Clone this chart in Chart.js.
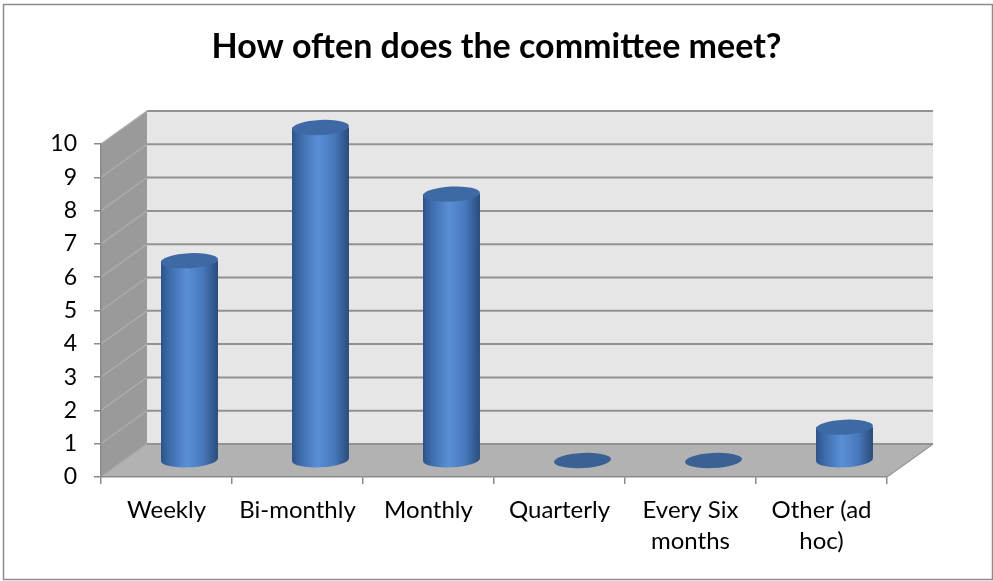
<!DOCTYPE html>
<html>
<head>
<meta charset="utf-8">
<script src="https://cdn.jsdelivr.net/npm/chart.js@4"></script>
<style>
  html, body { margin: 0; padding: 0; background: #fff; }
  #wrap { width: 993px; height: 581px; }
</style>
</head>
<body>
<div id="wrap"><canvas id="myChart"></canvas></div>
<script>
const categories = ['Weekly', 'Bi-monthly', 'Monthly', 'Quarterly', ['Every Six', 'months'], ['Other (ad', 'hoc)']];
const counts = [6, 10, 8, 0, 0, 1];
const yTicks = [0, 1, 2, 3, 4, 5, 6, 7, 8, 9, 10];

// depth of the 3d box (back wall is shifted up and to the right)
const DX = 46, DY = -33;

const box3d = {
  id: 'box3d',
  beforeDraw(chart) {
    const ctx = chart.ctx;
    const y = chart.scales.y;
    const l = chart.chartArea.left, r = chart.chartArea.right;
    const y0 = y.getPixelForValue(0), yMax = y.getPixelForValue(yTicks[yTicks.length - 1]);
    ctx.save();

    // outer frame
    ctx.strokeStyle = '#8c8c8c';
    ctx.lineWidth = 1.5;
    ctx.strokeRect(3.5, 4.5, 989, 575);

    // back wall
    ctx.fillStyle = '#e6e6e6';
    ctx.fillRect(l + DX, yMax + DY, r - l, y0 - yMax);

    // left side wall
    ctx.fillStyle = '#9a9a9a';
    ctx.beginPath();
    ctx.moveTo(l, yMax);
    ctx.lineTo(l + DX, yMax + DY);
    ctx.lineTo(l + DX, y0 + DY);
    ctx.lineTo(l, y0);
    ctx.closePath();
    ctx.fill();

    // floor
    ctx.fillStyle = '#b2b2b2';
    ctx.beginPath();
    ctx.moveTo(l, y0);
    ctx.lineTo(l + DX, y0 + DY);
    ctx.lineTo(r + DX, y0 + DY);
    ctx.lineTo(r, y0);
    ctx.closePath();
    ctx.fill();

    // gridlines on back and side walls
    yTicks.forEach(v => {
      const py = y.getPixelForValue(v);
      ctx.strokeStyle = '#929292';
      ctx.lineWidth = 2;
      ctx.beginPath();
      ctx.moveTo(l + DX, py + DY);
      ctx.lineTo(r + DX, py + DY);
      ctx.stroke();
      ctx.strokeStyle = '#ababab';
      ctx.lineWidth = 1.5;
      ctx.beginPath();
      ctx.moveTo(l, py);
      ctx.lineTo(l + DX, py + DY);
      ctx.stroke();
    });

    // right edge of the floor
    ctx.strokeStyle = '#999999';
    ctx.lineWidth = 1.5;
    ctx.beginPath();
    ctx.moveTo(r + DX, y0 + DY);
    ctx.lineTo(r, y0);
    ctx.stroke();
    ctx.restore();
  },
  afterDatasetsDraw(chart) {
    const ctx = chart.ctx;
    const meta = chart.getDatasetMeta(0);
    const ry = 7.5, rot = -0.05;
    ctx.save();
    meta.data.forEach(bar => {
      const cx = bar.x + DX / 2;
      const rx = bar.width / 2;
      const top = bar.y + DY / 2;
      const bot = bar.base + DY / 2;
      if (bot - top > 0.5) {
        const g = ctx.createLinearGradient(cx - rx, 0, cx + rx, 0);
        g.addColorStop(0, '#2d5389');
        g.addColorStop(0.15, '#3d6cab');
        g.addColorStop(0.45, '#5a8fd6');
        g.addColorStop(0.75, '#4677b9');
        g.addColorStop(1, '#2a4b7b');
        ctx.fillStyle = g;
        ctx.beginPath();
        ctx.moveTo(cx - rx, top);
        ctx.lineTo(cx - rx, bot);
        ctx.ellipse(cx, bot, rx, ry, rot, Math.PI, 0, true);
        ctx.lineTo(cx + rx, top);
        ctx.closePath();
        ctx.fill();
        ctx.fillStyle = '#3d69a5';
      } else {
        ctx.fillStyle = '#3a6194';
      }
      ctx.beginPath();
      ctx.ellipse(cx, top, rx, ry, rot, 0, Math.PI * 2);
      ctx.fill();
    });
    ctx.restore();
  }
};

const ctx = document.getElementById('myChart');
const myChart = new Chart(ctx, {
  type: 'bar',
  data: {
    labels: categories,
    datasets: [{
      data: counts,
      backgroundColor: 'rgba(0,0,0,0)',
      categoryPercentage: 1,
      barPercentage: 0.435
    }]
  },
  options: {
    responsive: true,
    maintainAspectRatio: false,
    animation: false,
    layout: { padding: 0 },
    plugins: {
      legend: { display: false },
      tooltip: { enabled: false },
      title: {
        display: true,
        text: 'How often does the committee meet?',
        color: '#000',
        font: { family: 'Lato', size: 34, weight: 'bold', lineHeight: 1.2 },
        padding: { top: 27, bottom: 76.2 }
      }
    },
    scales: {
      x: {
        afterFit: s => { s.height = 104; },
        border: { display: true, color: '#8a8a8a', width: 1.5 },
        grid: { offset: true, drawOnChartArea: false, drawTicks: true, tickLength: 7, color: '#8a8a8a', lineWidth: 1.5 },
        ticks: {
          color: '#000', autoSkip: false, maxRotation: 0, padding: 11,
          font: { family: 'Lato', size: 24, lineHeight: 1.29 }
        }
      },
      y: {
        min: 0, max: 10,
        afterFit: s => { s.width = 101; },
        border: { display: true, color: '#8a8a8a', width: 1.5 },
        grid: { drawOnChartArea: false, drawTicks: true, tickLength: 7, color: '#8a8a8a', lineWidth: 1.5 },
        ticks: {
          stepSize: 1, color: '#000', padding: 17,
          font: { family: 'Lato', size: 23 }
        }
      },
      // empty right-hand axis that only reserves room for the box depth
      spacer: {
        type: 'linear',
        position: 'right',
        afterFit: s => { s.width = 106; },
        border: { display: false },
        grid: { display: false },
        ticks: { display: false }
      }
    }
  },
  plugins: [box3d]
});
</script>
</body>
</html>
